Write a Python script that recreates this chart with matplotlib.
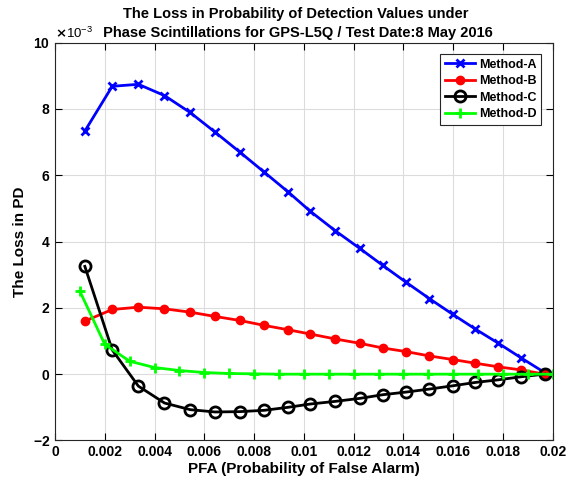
import numpy as np
import matplotlib
matplotlib.use("Agg")
import matplotlib.pyplot as plt
from matplotlib.ticker import ScalarFormatter, FuncFormatter

plt.rcParams['font.family'] = ['Liberation Sans', 'DejaVu Sans']
plt.rcParams['font.weight'] = 'bold'
plt.rcParams['axes.unicode_minus'] = False

# PFA values (x)
pfa = [0.00120, 0.00230, 0.00335, 0.00440, 0.00543, 0.00643, 0.00742, 0.00841, 0.00936, 0.01026,
       0.01127, 0.01225, 0.01317, 0.01411, 0.01504, 0.01599, 0.01689, 0.01782, 0.01871, 0.01967]
pfa_d = [0.001, 0.002, 0.003, 0.004, 0.005, 0.006, 0.007, 0.008, 0.009, 0.010,
         0.011, 0.012, 0.013, 0.014, 0.015, 0.016, 0.017, 0.018, 0.019, 0.020]

# loss in PD, in units of 1e-3
loss_a = [7.33, 8.68, 8.74, 8.40, 7.89, 7.30, 6.70, 6.09, 5.50, 4.91,
          4.32, 3.79, 3.28, 2.77, 2.28, 1.80, 1.36, 0.93, 0.50, 0.05]
loss_b = [1.60, 1.95, 2.02, 1.97, 1.87, 1.74, 1.62, 1.47, 1.34, 1.21,
          1.06, 0.93, 0.79, 0.68, 0.55, 0.44, 0.33, 0.22, 0.13, 0.0]
loss_c = [3.25, 0.73, -0.36, -0.87, -1.07, -1.14, -1.13, -1.09, -1.00, -0.90,
          -0.82, -0.73, -0.62, -0.54, -0.45, -0.35, -0.25, -0.17, -0.08, 0.0]
loss_d = [2.50, 0.90, 0.39, 0.20, 0.11, 0.05, 0.02, 0.01, 0.0, 0.0,
          0.0, 0.0, 0.0, 0.0, 0.0, 0.0, 0.0, 0.0, 0.0, 0.0]

fig = plt.figure(figsize=(5.71, 4.87), dpi=100)
ax = fig.add_axes([0.0963, 0.0955, 0.8717, 0.8172])

sc = 1e-3
ax.plot(pfa, np.array(loss_a) * sc, color='#0000ff', lw=2, marker='x', ms=6, mew=2, label='Method-A')
ax.plot(pfa, np.array(loss_b) * sc, color='#ff0000', lw=2, marker='o', ms=6, label='Method-B')
ax.plot(pfa, np.array(loss_c) * sc, color='black', lw=2, marker='o', ms=8, mew=2, mfc='none', label='Method-C')
ax.plot(pfa_d, np.array(loss_d) * sc, color='#00ff00', lw=2, marker='+', ms=7, mew=2, label='Method-D')

ax.set_xlim(0, 0.02)
ax.set_ylim(-2e-3, 10e-3)
ax.set_xticks(np.arange(0, 0.0201, 0.002))
ax.set_yticks(np.arange(-2e-3, 10.1e-3, 2e-3))
ax.xaxis.set_major_formatter(FuncFormatter(lambda v, p: '%g' % round(v, 4)))
fmt = ScalarFormatter(useMathText=True)
fmt.set_powerlimits((-3, -3))
ax.yaxis.set_major_formatter(fmt)
ax.yaxis.get_offset_text().set_fontsize(9.5)
ax.yaxis.get_offset_text().set_fontweight('normal')

ax.grid(True, color='#dcdcdc', lw=0.8)
ax.set_axisbelow(True)
ax.tick_params(direction='in', top=True, right=True, labelsize=10, length=5, width=0.8)
for s in ax.spines.values():
    s.set_linewidth(0.8)
    s.set_color('#262626')

ax.set_xlabel('PFA (Probability of False Alarm)', fontsize=11, fontweight='bold', labelpad=2)
ax.set_ylabel('The Loss in PD', fontsize=11, fontweight='bold', labelpad=4)
fig.text(0.518, 1 - 23.5 / 487,
         'The Loss in Probability of Detection Values under\n Phase Scintillations for GPS-L5Q / Test Date:8 May 2016',
         fontsize=10.5, fontweight='bold', ha='center', va='center', multialignment='center',
         linespacing=1.5)

leg = ax.legend(loc='upper right', fontsize=9, fancybox=False, edgecolor='#262626',
                framealpha=1, borderaxespad=0.9, handlelength=2.4, handletextpad=0.3,
                borderpad=0.4, labelspacing=0.35)
leg.get_frame().set_linewidth(0.8)
for t in leg.get_texts():
    t.set_fontweight('bold')

plt.savefig('out.png', dpi=100)
